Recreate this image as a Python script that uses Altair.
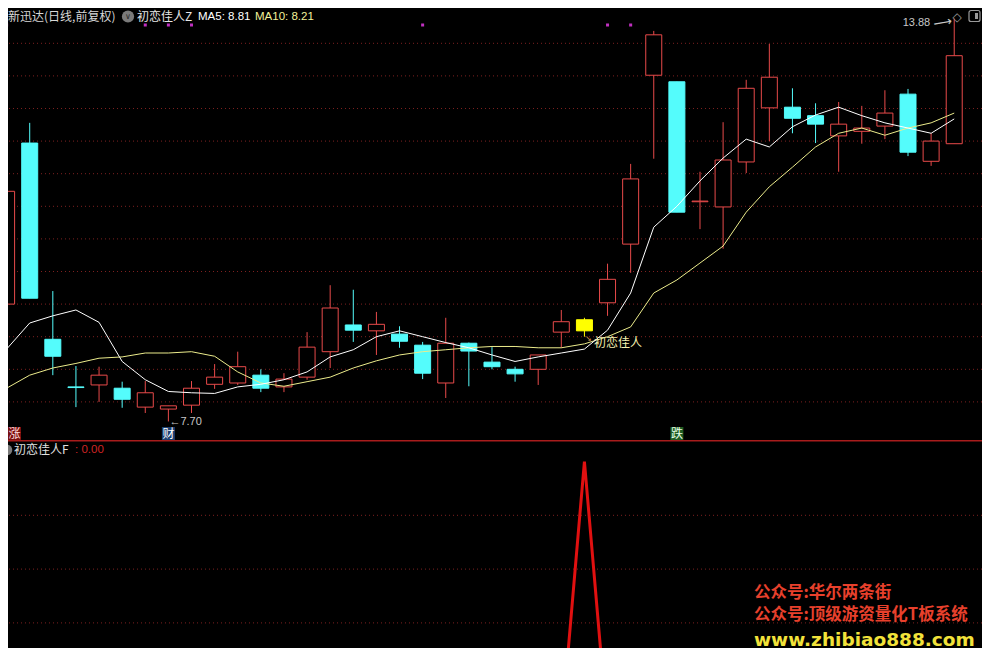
import altair as alt
import pandas as pd

# ---- candle data (price) ----
opens  = [9.50, 11.97, 8.96, 8.23, 8.26, 8.21, 7.92, 7.89, 7.95, 8.27, 8.29, 8.41, 8.23, 8.38,
          8.77, 9.18, 9.09, 9.04, 8.87, 8.29, 8.90, 8.61, 8.50, 8.50, 9.07, 9.09, 9.52, 10.42,
          13.01, 12.91, 11.07, 10.99, 11.68, 12.51, 12.52, 12.39, 12.08, 12.15, 12.23, 12.72, 11.69, 11.96]
highs  = [11.23, 12.28, 9.70, 8.55, 8.54, 8.31, 8.32, 7.94, 8.32, 8.58, 8.77, 8.50, 8.44, 9.07,
          9.79, 9.72, 9.38, 9.16, 8.92, 9.29, 8.91, 8.84, 8.54, 8.72, 9.41, 9.29, 10.12, 11.65,
          13.69, 12.91, 11.53, 12.29, 12.94, 13.49, 12.81, 12.58, 12.60, 12.54, 12.78, 12.80, 12.12, 13.88]
lows   = [9.44, 9.59, 8.41, 7.92, 8.00, 7.91, 7.83, 7.70, 7.83, 8.20, 8.26, 8.15, 8.15, 8.34,
          8.52, 8.92, 8.72, 8.83, 8.35, 8.06, 8.24, 8.50, 8.31, 8.26, 8.83, 9.00, 9.32, 9.98,
          11.73, 10.91, 10.65, 10.35, 11.51, 12.00, 12.12, 11.97, 11.53, 11.96, 12.03, 11.77, 11.62, 11.96]
closes = [11.23, 9.59, 8.70, 8.22, 8.41, 8.04, 8.14, 7.94, 8.21, 8.38, 8.54, 8.21, 8.35, 8.84,
          9.44, 9.10, 9.19, 8.93, 8.44, 8.90, 8.78, 8.54, 8.43, 8.72, 9.23, 9.26, 9.88, 11.42,
          13.63, 10.91, 11.08, 11.71, 12.81, 12.98, 12.35, 12.26, 12.26, 12.20, 12.43, 11.83, 12.00, 13.31]
kinds  = ["up", "down", "down", "down", "up", "down", "up", "up", "up", "up", "up", "down", "up", "up",
          "up", "down", "up", "down", "down", "up", "down", "down", "down", "up", "up", "sig", "up", "up",
          "up", "down", "up", "up", "up", "up", "down", "down", "up", "up", "up", "down", "up", "up"]
ma5    = [8.81, 9.21, 9.32, 9.41, 9.22, 8.62, 8.34, 8.16, 8.14, 8.13, 8.23, 8.27, 8.34, 8.46,
          8.69, 8.80, 9.00, 9.09, 9.00, 8.91, 8.83, 8.72, 8.62, 8.69, 8.75, 8.81, 9.10, 9.67,
          10.68, 11.00, 11.39, 11.74, 12.03, 11.91, 12.22, 12.40, 12.52, 12.39, 12.28, 12.20, 12.12, 12.34]
ma10   = [8.21, 8.41, 8.52, 8.59, 8.67, 8.69, 8.75, 8.75, 8.77, 8.70, 8.46, 8.29, 8.24, 8.31,
          8.38, 8.52, 8.63, 8.72, 8.77, 8.80, 8.83, 8.85, 8.85, 8.83, 8.83, 8.89, 9.00, 9.15,
          9.67, 9.87, 10.13, 10.39, 10.91, 11.30, 11.60, 11.91, 12.12, 12.20, 12.09, 12.20, 12.28, 12.43]
f_values = [0, 0, 0, 0, 0, 0, 0, 0, 0, 0, 0, 0, 0, 0,
            0, 0, 0, 0, 0, 0, 0, 0, 0, 0, 0, 1, 0, 0,
            0, 0, 0, 0, 0, 0, 0, 0, 0, 0, 0, 0, 0, 0]
dot_idx = [0, 6, 7, 8, 18, 26, 27]
top_grid = [8.0, 8.5, 9.0, 9.5, 10.0, 10.5, 11.0, 11.5, 12.0, 12.5, 13.0, 13.5]
bot_grid = [0.4, 0.6, 0.8]
watermark_lines = ["公众号:华尔两条街", "公众号:顶级游资量化T板系统"]

df = pd.DataFrame({"i": list(range(len(opens))), "open": opens, "high": highs, "low": lows,
                   "close": closes, "kind": kinds, "ma5": ma5, "ma10": ma10, "f": f_values})

W, H = 974, 640
X_DOM = [0.0607, 42.2013]
TOP_DOM = [4.2255, 14.0414]
BOT_DOM = [0.3067, 2.6859]
CJK = "Noto Sans CJK SC"
LAT = "Liberation Sans"

RED = "#e84a4a"
CYAN = "#54fcfc"
YEL = "#ffff00"

xenc = alt.X("i:Q", scale=alt.Scale(domain=X_DOM, nice=False, zero=False, padding=0), axis=None)


def yt(field):
    return alt.Y(f"{field}:Q", scale=alt.Scale(domain=TOP_DOM, nice=False, zero=False, padding=0), axis=None)


def yb(field):
    return alt.Y(f"{field}:Q", scale=alt.Scale(domain=BOT_DOM, nice=False, zero=False, padding=0), axis=None)


one = pd.DataFrame({"a": [0]})


def label(txt, x, y, color, size=12, font=CJK, weight="normal", align="left", **kw):
    return alt.Chart(one).mark_text(text=txt, color=color, fontSize=size, font=font,
                                    fontWeight=weight, align=align, baseline="middle", **kw).encode(
        x=alt.value(x), y=alt.value(y))


kind_dom = ["up", "down", "sig"]

grid_top = alt.Chart(pd.DataFrame({"p": top_grid})).mark_rule(
    color="#7e2020", strokeDash=[1, 3], strokeWidth=1).encode(y=yt("p"))
grid_bot = alt.Chart(pd.DataFrame({"g": bot_grid})).mark_rule(
    color="#7e2020", strokeDash=[1, 3], strokeWidth=1).encode(y=yb("g"))
separator = alt.Chart(one).mark_rule(color="#a81c1c", strokeWidth=1.5).encode(
    x=alt.value(0), x2=alt.value(W), y=alt.value(432.7))

wicks = alt.Chart(df).mark_rule(strokeWidth=1, clip=True).encode(
    x=xenc, y=yt("low"), y2="high:Q",
    color=alt.Color("kind:N", scale=alt.Scale(domain=kind_dom, range=[RED, CYAN, YEL]), legend=None))
bodies = alt.Chart(df).mark_bar(size=16, strokeWidth=1, clip=True).encode(
    x=xenc, y=yt("open"), y2="close:Q",
    fill=alt.Fill("kind:N", scale=alt.Scale(domain=kind_dom, range=["#000000", CYAN, YEL]), legend=None),
    stroke=alt.Stroke("kind:N", scale=alt.Scale(domain=kind_dom, range=[RED, CYAN, YEL]), legend=None))

line5 = alt.Chart(df).mark_line(color="#ffffff", strokeWidth=1, clip=True).encode(x=xenc, y=yt("ma5"))
line10 = alt.Chart(df).mark_line(color="#ecec8c", strokeWidth=1, clip=True).encode(x=xenc, y=yt("ma10"))
fline = alt.Chart(df).mark_line(color="#e01010", strokeWidth=3, clip=True).encode(x=xenc, y=yb("f"))

dots = alt.Chart(pd.DataFrame({"i": dot_idx})).mark_square(size=9, color="#c030c0", opacity=1, clip=True).encode(
    x=xenc, y=alt.value(17))

# signal labels
cai_df = pd.DataFrame({"i": [7]})
die_df = pd.DataFrame({"i": [29]})
cai_box = alt.Chart(cai_df).mark_square(size=169, color="#1c3f70", opacity=1).encode(x=xenc, y=alt.value(425.5))
cai_txt = alt.Chart(cai_df).mark_text(text="财", color="#ffffff", fontSize=12, font=CJK, baseline="middle").encode(
    x=xenc, y=alt.value(425.5))
die_box = alt.Chart(die_df).mark_square(size=169, color="#1e5c22", opacity=1).encode(x=xenc, y=alt.value(425.5))
die_txt = alt.Chart(die_df).mark_text(text="跌", color="#e8ffe8", fontSize=12, font=CJK, baseline="middle").encode(
    x=xenc, y=alt.value(425.5))
zhang_box = alt.Chart(one).mark_rect(color="#7a1010").encode(
    x=alt.value(0), x2=alt.value(13), y=alt.value(419), y2=alt.value(432))
zhang_txt = label("涨", 6.5, 425.5, "#ffdcdc", align="center")

low_df = pd.DataFrame({"i": [7], "p": [7.70]})
low_txt = alt.Chart(low_df).mark_text(text="←7.70", color="#c8c8c8", fontSize=11, font=LAT,
                                      align="left", baseline="middle", dx=1, dy=1).encode(x=xenc, y=yt("p"))
hi_df = pd.DataFrame({"i": [41], "p": [13.88]})
hi_txt = alt.Chart(hi_df).mark_text(text="13.88", color="#c8c8c8", fontSize=11, font=LAT,
                                    align="right", baseline="middle", dx=-24, dy=4).encode(x=xenc, y=yt("p"))
hi_arrow = alt.Chart(hi_df).mark_text(text="⟶", color="#c8c8c8", fontSize=13, font="DejaVu Sans",
                                      align="center", baseline="middle", dx=-12, dy=2, angle=350).encode(x=xenc, y=yt("p"))

sig_df = pd.DataFrame({"i": [25], "p": [8.90]})
sig_txt = alt.Chart(sig_df).mark_text(text="初恋佳人", color="#f5f0b0", fontSize=12, font=CJK,
                                      align="left", baseline="middle", dx=9.5).encode(x=xenc, y=yt("p"))
sig_arrow = alt.Chart(sig_df).mark_text(text="↘", color="#e0a050", fontSize=8, font="DejaVu Sans",
                                        align="center", baseline="middle", dx=4, dy=-4).encode(x=xenc, y=yt("p"))

# header row (top panel)
HY = 8.5
hdr_icon = alt.Chart(one).mark_circle(size=150, color="#7a7a7a", opacity=1).encode(x=alt.value(120), y=alt.value(HY))
hdr_icon_t = label("∨", 120, HY + 0.5, "#2a2a2a", size=8, font="DejaVu Sans", align="center")
box_icon = alt.Chart(one).mark_rect(fill="#000000", stroke="#9a9a9a", strokeWidth=1.2, cornerRadius=2).encode(
    x=alt.value(961), x2=alt.value(972), y=alt.value(2.5), y2=alt.value(13.5))
box_icon_in = alt.Chart(one).mark_rect(fill="#9a9a9a").encode(
    x=alt.value(967), x2=alt.value(970), y=alt.value(5), y2=alt.value(11))
headers = [
    label("新迅达(日线,前复权)", 0, HY, "#d8d8d8"),
    hdr_icon, hdr_icon_t,
    label("初恋佳人Z", 129, HY, "#e6e6e6"),
    label("MA5: 8.81", 190, HY, "#ffffff", size=11.5, font=LAT),
    label("MA10: 8.21", 247, HY, "#f2f29a", size=11.5, font=LAT),
    label("◇", 949, HY, "#9a9a9a", size=12, font="DejaVu Sans", align="center"),
    box_icon, box_icon_in,
]

# lower panel header
bot_icon = alt.Chart(one).mark_circle(size=110, color="#7a7a7a", opacity=1).encode(x=alt.value(-1), y=alt.value(442))
bot_headers = [
    bot_icon,
    label("初恋佳人F", 6, 442, "#e0e0e0"),
    label(": 0.00", 67, 442, "#d02424", size=11.5, font=LAT),
]

# watermark
marks_wm = [
    alt.Chart(one).mark_text(text=watermark_lines, color="#e8402c", fontSize=16.5, font=CJK,
                             fontWeight="bold", align="left", baseline="middle", lineHeight=22).encode(
        x=alt.value(746), y=alt.value(585)),
    label("www.zhibiao888.com", 746, 631.5, "#f2e23a", size=18.5, font="DejaVu Sans", weight="bold"),
]

layers = [grid_top, grid_bot, separator, wicks, bodies, line10, line5, fline, dots,
          cai_box, cai_txt, die_box, die_txt, zhang_box, zhang_txt,
          low_txt, hi_txt, hi_arrow, sig_txt, sig_arrow] + headers + bot_headers + marks_wm

chart = alt.layer(*layers).resolve_scale(y="independent").properties(
    width=W, height=H, padding=0,
    autosize=alt.AutoSizeParams(type="none"),
    background="#000000",
).configure_view(stroke=None)

chart.save("out.html", embed_options={"renderer": "svg", "actions": False})
